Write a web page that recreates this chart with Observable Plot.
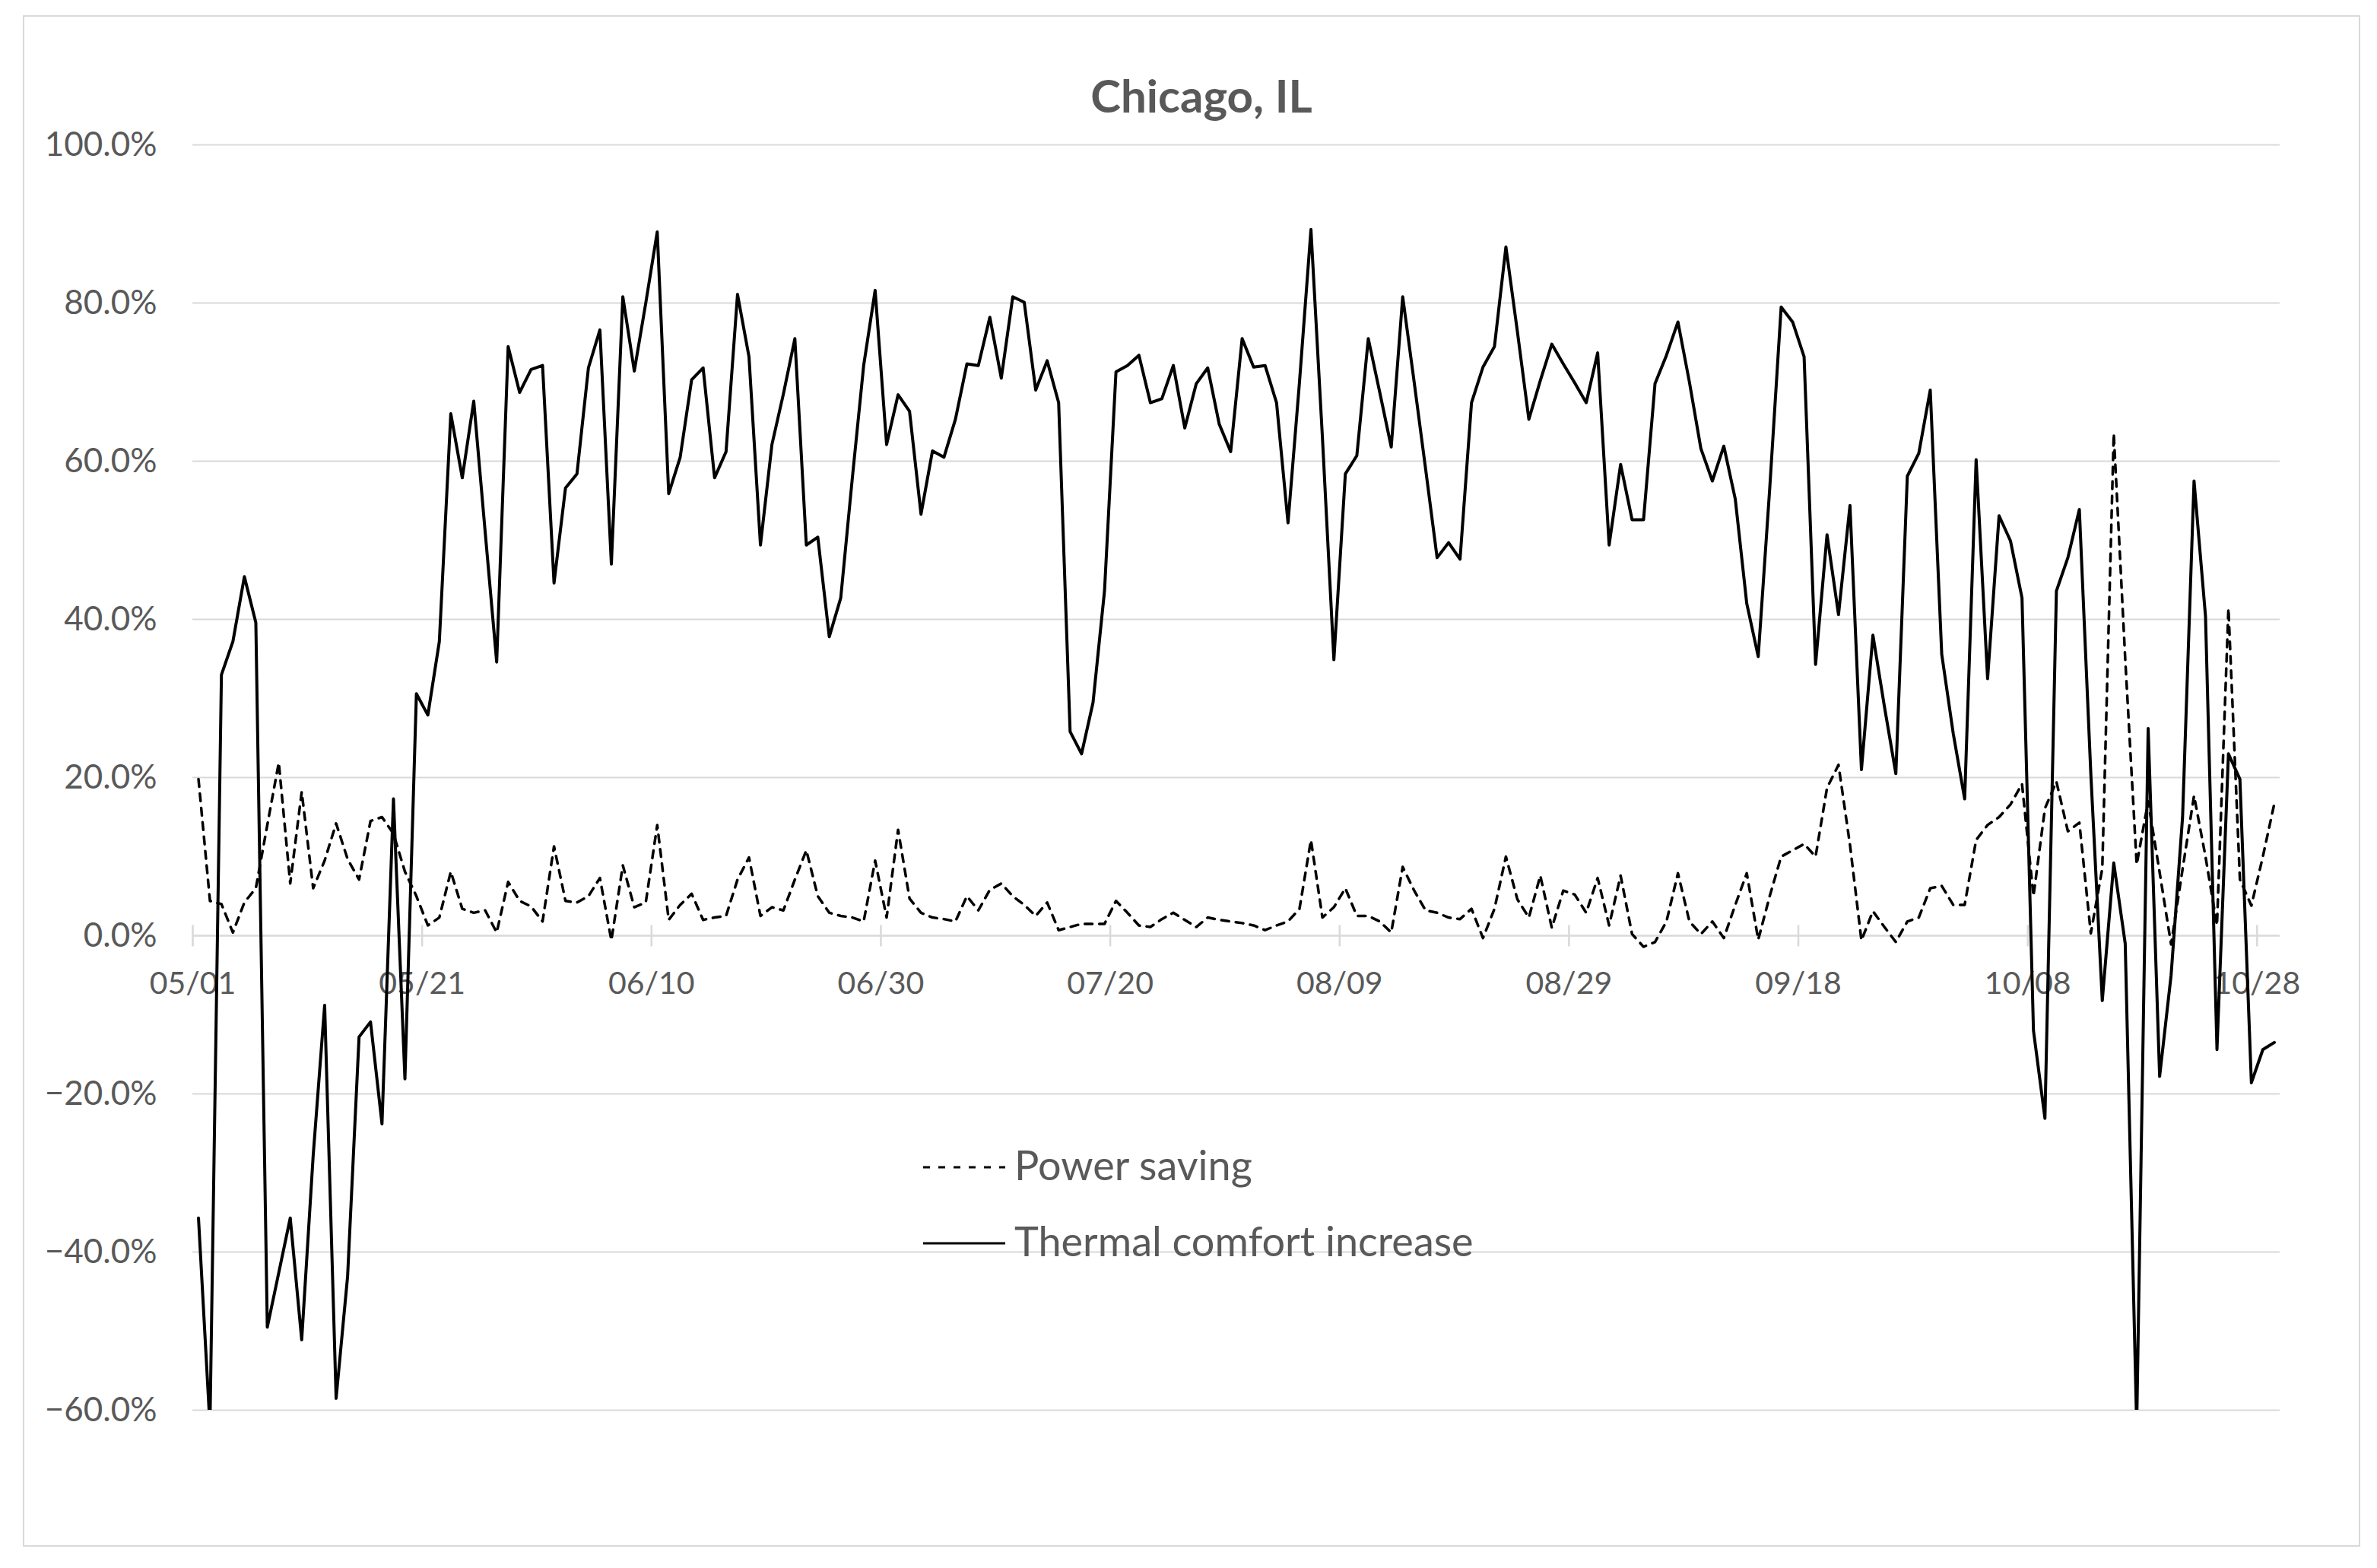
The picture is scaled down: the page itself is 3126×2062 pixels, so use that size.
<!DOCTYPE html>
<html>
<head>
<meta charset="utf-8">
<script src="https://cdn.jsdelivr.net/npm/d3@7"></script>
<script src="https://cdn.jsdelivr.net/npm/@observablehq/plot@0.6"></script>
<style>
  html, body { margin: 0; padding: 0; background: #fff; }
  #wrap { position: relative; width: 3126px; height: 2062px; overflow: hidden; background: #fff; }
  #border { position: absolute; left: 30px; top: 20px; width: 3074px; height: 2014px; border: 2px solid #d9d9d9; box-sizing: border-box; }
  #chart { position: absolute; left: 0; top: 0; }
  #overlay { position: absolute; left: 0; top: 0; }
</style>
</head>
<body>
<div id="wrap">
  <div id="border"></div>
  <div id="chart"></div>
  <svg id="overlay" width="3126" height="2062"></svg>
</div>
<script>
// ---- data ----
const title = "Chicago, IL";
const seriesNames = ["Power saving", "Thermal comfort increase"];
const xTickLabels = ["05/01", "05/21", "06/10", "06/30", "07/20", "08/09", "08/29", "09/18", "10/08", "10/28"];
const yTicks = [-60, -40, -20, 0, 20, 40, 60, 80, 100];
const firstDay = "2021-05-01";
const dayCount = 182;

// Thermal comfort increase (%), daily from 05/01
const thermal = [
  -35.7, -62, 33.0, 37.2, 45.4, 39.6, -49.5, -42.6, -35.7, -51.1,
  -27.8, -8.8, -58.5, -43.1, -12.8, -10.9, -23.8, 17.3, -18.1, 30.6,
  27.9, 37.2, 66.0, 57.9, 67.6, 51.0, 34.6, 74.5, 68.7, 71.6,
  72.1, 44.6, 56.6, 58.4, 71.8, 76.6, 47.0, 80.8, 71.4, 80.0,
  89.0, 55.9, 60.5, 70.3, 71.8, 57.9, 61.2, 81.1, 73.2, 49.4,
  62.1, 68.5, 75.5, 49.4, 50.4, 37.8, 42.7, 57.7, 72.1, 81.6,
  62.1, 68.4, 66.3, 53.3, 61.3, 60.5, 65.3, 72.3, 72.1, 78.2,
  70.5, 80.8, 80.1, 69.0, 72.7, 67.4, 25.8, 23.0, 29.5, 43.6,
  71.3, 72.1, 73.4, 67.4, 67.9, 72.1, 64.2, 69.8, 71.8, 64.7,
  61.2, 75.5, 71.9, 72.1, 67.4, 52.2, 70.0, 89.3, 63.0, 34.9,
  58.4, 60.7, 75.5, 68.7, 61.8, 80.8, 70.0, 59.0, 47.8, 49.7,
  47.6, 67.4, 71.9, 74.5, 87.1, 76.4, 65.3, 70.2, 74.8, 72.3,
  69.9, 67.4, 73.7, 49.4, 59.6, 52.6, 52.6, 69.8, 73.4, 77.6,
  70.0, 61.6, 57.5, 61.9, 55.2, 42.0, 35.3, 56.5, 79.5, 77.6,
  73.2, 34.3, 50.7, 40.6, 54.4, 21.0, 38.0, 29.0, 20.5, 58.1,
  61.0, 69.0, 35.6, 25.6, 17.3, 60.2, 32.5, 53.1, 49.9, 42.7,
  -12.0, -23.1, 43.6, 47.8, 53.9, 20.5, -8.2, 9.2, -1.0, -62,
  26.2, -17.8, -5.0, 15.0, 57.5, 40.4, -14.4, 23.0, 19.8, -18.6,
  -14.4, -13.5
];

// Power saving (%), daily from 05/01
const power = [
  19.8, 4.4, 4.0, 0.4, 4.2, 6.0, 14.0, 21.9, 6.6, 18.2,
  6.0, 9.5, 14.2, 9.7, 7.1, 14.5, 15.0, 12.9, 8.1, 5.0,
  1.3, 2.3, 8.1, 3.4, 2.9, 3.2, 0.4, 6.8, 4.4, 3.7,
  1.8, 11.3, 4.4, 4.2, 5.0, 7.3, -0.6, 8.9, 3.6, 4.2,
  14.0, 2.0, 3.9, 5.3, 2.0, 2.3, 2.5, 7.1, 9.9, 2.5,
  3.6, 3.2, 7.1, 10.8, 5.0, 2.9, 2.5, 2.3, 1.8, 9.5,
  2.3, 13.4, 4.7, 2.9, 2.3, 2.1, 1.8, 5.0, 3.2, 5.8,
  6.6, 5.0, 3.9, 2.5, 4.2, 0.7, 1.1, 1.5, 1.5, 1.5,
  4.4, 2.9, 1.3, 1.1, 2.1, 2.9, 2.0, 1.1, 2.3, 2.0,
  1.8, 1.6, 1.3, 0.7, 1.3, 1.8, 3.4, 12.1, 2.3, 3.6,
  6.0, 2.5, 2.5, 1.8, 0.4, 8.7, 5.7, 3.2, 2.9, 2.3,
  2.1, 3.4, -0.3, 3.4, 10.0, 4.6, 2.3, 7.6, 1.0, 5.7,
  5.2, 2.9, 7.3, 1.3, 7.6, 0.2, -1.4, -0.8, 1.8, 7.9,
  1.8, 0.2, 1.8, -0.3, 3.9, 7.9, -0.5, 5.0, 10.0, 10.8,
  11.6, 10.0, 18.7, 21.6, 11.5, -0.6, 3.1, 1.1, -0.8, 1.8,
  2.3, 6.0, 6.3, 3.9, 3.9, 12.1, 14.0, 15.0, 16.6, 19.2,
  5.0, 16.1, 19.5, 13.2, 14.3, 0.3, 8.5, 63.5, 35.0, 9.0,
  17.0, 8.0, -1.1, 8.4, 17.7, 10.0, 1.3, 41.4, 7.1, 3.8,
  10.0, 16.7
];

// ---- build table ----
const DAY = 864e5;
const t0 = new Date(firstDay + "T00:00:00Z").getTime();
const year = new Date(t0).getUTCFullYear();
const rows = thermal.map((v, i) => ({ date: new Date(t0 + (i + 0.5) * DAY), thermal: v, power: power[i] }));
const tickDates = xTickLabels.map(s => { const [m, d] = s.split("/").map(Number); return new Date(Date.UTC(year, m - 1, d)); });

const TEXT = "#595959";
const GRID = "#d9d9d9";
const FONT = "Lato, 'Noto Sans', sans-serif";

const tickSymbol = { draw(ctx) { ctx.moveTo(0, -14); ctx.lineTo(0, 14); } };
const fmtPct = d => (d < 0 ? "\u2212" : "") + Math.abs(d).toFixed(1) + "%";

const chart = Plot.plot({
  width: 3126,
  height: 2062,
  marginLeft: 253,
  marginRight: 128,
  marginTop: 190,
  marginBottom: 208,
  style: { fontFamily: FONT, fontSize: "44px", color: TEXT, background: "transparent", overflow: "visible" },
  x: { type: "utc", domain: [new Date(t0), new Date(t0 + dayCount * DAY)], axis: null },
  y: { domain: [-60, 100] },
  marks: [
    Plot.ruleY(yTicks.filter(t => t !== 0), { stroke: GRID, strokeWidth: 2 }),
    Plot.ruleY([0], { stroke: GRID, strokeWidth: 2.5 }),
    Plot.dot(tickDates, { x: d => d, y: 0, symbol: tickSymbol, stroke: GRID, strokeWidth: 2.5, fill: "none" }),
    Plot.text(tickDates, { x: d => d, y: 0, text: (d, i) => xTickLabels[i], dy: 63, fill: TEXT, fontSize: 41 }),
    Plot.axisY(yTicks, { tickSize: 0, tickPadding: 47, tickFormat: fmtPct, fill: TEXT, fontSize: 44 }),
    Plot.line(rows, { x: "date", y: "power", stroke: "#000", strokeWidth: 3.5, strokeDasharray: "10,9", clip: true }),
    Plot.line(rows, { x: "date", y: "thermal", stroke: "#000", strokeWidth: 4, clip: true })
  ]
});
document.getElementById("chart").appendChild(chart);

// ---- title and legend ----
const ov = d3.select("#overlay");
ov.append("text")
  .attr("x", 1580).attr("y", 148)
  .attr("text-anchor", "middle")
  .attr("font-family", FONT).attr("font-weight", "bold").attr("font-size", 60)
  .attr("fill", TEXT)
  .text(title);

const legend = [
  { name: seriesNames[0], dash: "9,11", y: 1535, base: 1552 },
  { name: seriesNames[1], dash: null, y: 1635, base: 1652 }
];
legend.forEach(l => {
  const ln = ov.append("line")
    .attr("x1", 1214).attr("x2", 1322)
    .attr("y1", l.y).attr("y2", l.y)
    .attr("stroke", "#000").attr("stroke-width", 3);
  if (l.dash) ln.attr("stroke-dasharray", l.dash);
  ov.append("text")
    .attr("x", 1334).attr("y", l.base)
    .attr("font-family", FONT).attr("font-size", 54)
    .attr("fill", TEXT)
    .text(l.name);
});
</script>
</body>
</html>
